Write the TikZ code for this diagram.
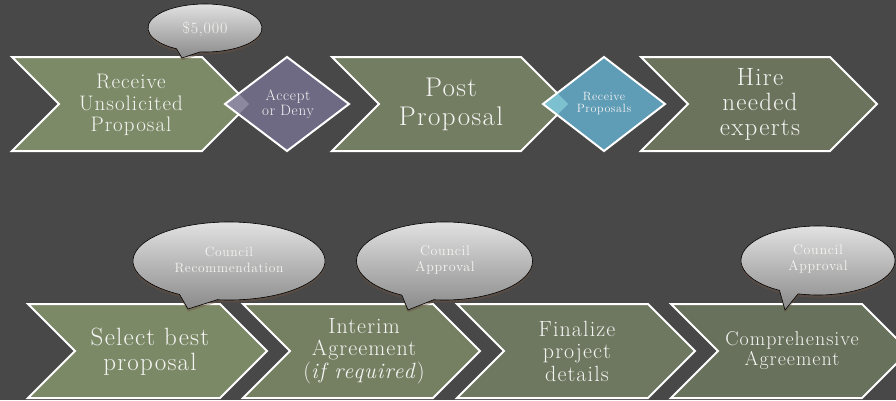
\documentclass[tikz,border=0pt]{standalone}
\usepackage{fontspec}
\setmainfont{Latin Modern Roman}[LetterSpace=5]
\definecolor{bgdark}{HTML}{484848}
\definecolor{chevA}{HTML}{7D8A68}
\definecolor{chevB}{HTML}{737D62}
\definecolor{chevC}{HTML}{6B735D}
\definecolor{chevD}{HTML}{7C8967}
\definecolor{chevE}{HTML}{758063}
\definecolor{chevF}{HTML}{6E775F}
\definecolor{chevG}{HTML}{68715B}
\definecolor{gemPurple}{HTML}{6E6A84}
\definecolor{gemPurpleLit}{HTML}{8C889F}
\definecolor{gemBlue}{HTML}{5F9CB6}
\definecolor{gemBlueLit}{HTML}{7DC0D0}
\definecolor{bubtop}{HTML}{E6E6E6}
\definecolor{bubbot}{HTML}{8A8A8A}
\definecolor{bubshade}{HTML}{6E5242}
\definecolor{labelwhite}{HTML}{F4F4F2}

% chevron outline: left x, top y, straight width
\newcommand\chevpath[3]{(#1,#2) -- ++(#3,0) -- ++(47,-47) -- ++(-47,-47) -- ++(-#3,0) -- ++(47,47) -- cycle}
% diamond outline: centre x, centre y, half width, half height
\newcommand\gempath[4]{(#1-#3,#2) -- (#1,#2+#4) -- (#1+#3,#2) -- (#1,#2-#4) -- cycle}
% speech bubble: tip x, tip y, centre x, centre y, x radius, y radius, left base angle, right base angle
\newcommand\bubblepath[8]{(#1,#2) -- ([shift={(#3,#4)}]#7:#5 and #6) arc[start angle=#7, end angle=#8-360, x radius=#5, y radius=#6] -- cycle}
% text size and line distance for labels
\newcommand\lblsize[2]{\fontsize{#1}{#2}\selectfont}

\begin{document}
\begin{tikzpicture}[x=1pt,y=1pt,
  chevbox/.style={draw=white, line width=2pt, line join=miter},
  gemline/.style={draw=white, line width=2pt, line join=miter},
  bubble/.style={draw=black, line width=0.6pt, top color=bubtop, bottom color=bubbot},
  bubglow/.style={fill=bubshade, opacity=0.45},
  label/.style={text=labelwhite, align=center, inner sep=0pt}]

\useasboundingbox (0,0) rectangle (896,400);
\fill[bgdark] (0,0) rectangle (896,400);
\clip (0,0) rectangle (896,400);

% upper row of chevrons
\path[chevbox, fill=chevA] \chevpath{12}{343}{190};
\path[chevbox, fill=chevB] \chevpath{332}{343}{189};
\path[chevbox, fill=chevC] \chevpath{641}{343}{189};

% decision diamonds laid over the chevron tips
\fill[gemPurple] \gempath{287}{296}{62}{47};
\begin{scope}
  \clip \chevpath{12}{343}{190};
  \fill[gemPurpleLit] \gempath{287}{296}{62}{47};
\end{scope}
\path[gemline] \gempath{287}{296}{62}{47};

\fill[gemBlue] \gempath{604}{296}{61}{47};
\begin{scope}
  \clip \chevpath{332}{343}{189};
  \fill[gemBlueLit] \gempath{604}{296}{61}{47};
\end{scope}
\path[gemline] \gempath{604}{296}{61}{47};

% lower row of chevrons
\path[chevbox, fill=chevD] \chevpath{28}{96}{192};
\path[chevbox, fill=chevE] \chevpath{243}{96}{190};
\path[chevbox, fill=chevF] \chevpath{457}{96}{191};
\path[chevbox, fill=chevG] \chevpath{671}{96}{191};

% speech bubbles with a soft warm shadow underneath
\begin{scope}[shift={(0,-2.5)}]
  \fill[bubglow] \bubblepath{182}{342}{205}{372}{57}{24}{240}{265};
  \fill[bubglow] \bubblepath{188}{91}{229}{139}{96}{39}{239}{263};
  \fill[bubglow] \bubblepath{408}{90}{444.5}{139}{88}{39}{241}{263};
  \fill[bubglow] \bubblepath{785}{90}{818}{139.5}{77}{34.5}{240}{255};
\end{scope}
\path[bubble] \bubblepath{182}{342}{205}{372}{57}{24}{240}{265};
\path[bubble] \bubblepath{188}{91}{229}{139}{96}{39}{239}{263};
\path[bubble] \bubblepath{408}{90}{444.5}{139}{88}{39}{241}{263};
\path[bubble] \bubblepath{785}{90}{818}{139.5}{77}{34.5}{240}{255};

% step texts, upper row
\node[label, font=\lblsize{21}{21.5}] (unsolicited) at (131,295) {Receive\\Unsolicited\\Proposal};
\node[label, font=\lblsize{15}{15}] (acceptdeny) at (288,296) {Accept\\or Deny};
\node[label, font=\lblsize{27}{29}] (post) at (451,296) {Post\\Proposal};
\node[label, font=\lblsize{12}{12}] (receive) at (604,296) {Receive\\Proposals};
\node[label, font=\lblsize{25}{25}] (hire) at (760,296) {Hire\\needed\\experts};

% bubble texts
\node[label, font=\lblsize{16}{16}] (fee) at (205,371) {\$5,000};
\node[label, font=\lblsize{13.5}{16}] (recommend) at (229,140) {Council\\Recommendation};
\node[label, font=\lblsize{14}{16}] (approveA) at (445,140) {Council\\Approval};
\node[label, font=\lblsize{14}{16}] (approveB) at (818,141) {Council\\Approval};

% step texts, lower row
\node[label, font=\lblsize{25}{25}] (select) at (150,48) {Select best\\proposal};
\node[label, font=\lblsize{22}{22.5}] (interim) at (364,49) {Interim\\Agreement\\(\textit{if required})};
\node[label, font=\lblsize{22}{22.5}] (finalize) at (577,49) {Finalize\\project\\details};
\node[label, font=\lblsize{20}{20}] (comprehensive) at (792,49) {Comprehensive\\Agreement};
\end{tikzpicture}
\end{document}
